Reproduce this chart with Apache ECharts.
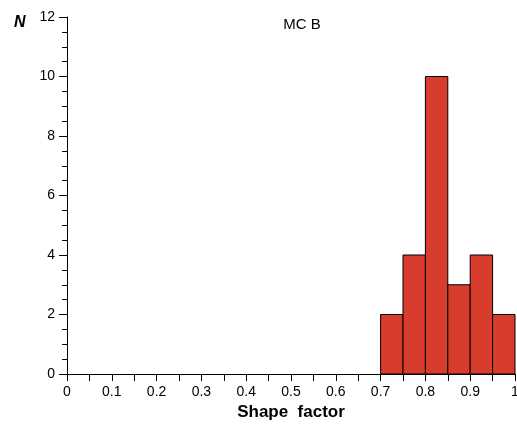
<!DOCTYPE html>
<html>
<head>
<meta charset="utf-8">
<script src="https://cdn.jsdelivr.net/npm/echarts@6/dist/echarts.min.js"></script>
<style>
  html, body { margin: 0; padding: 0; background: #fff; }
  #chart { width: 517px; height: 429px; }
</style>
</head>
<body>
<div id="chart"></div>
<script>
// Histogram of shape factor, bins of width 0.05
const binStarts = [0.70, 0.75, 0.80, 0.85, 0.90, 0.95];
const binEnds = [0.75, 0.80, 0.85, 0.90, 0.95, 1.00];
const counts = [2, 4, 10, 3, 4, 2];
const xTickLabels = ['0', '0.1', '0.2', '0.3', '0.4', '0.5', '0.6', '0.7', '0.8', '0.9', '1'];

const chart = echarts.init(document.getElementById('chart'), null, { renderer: 'canvas' });
const font = 'Liberation Sans, Arial, Helvetica, sans-serif';

const bins = binStarts.map((s, i) => [s, binEnds[i], counts[i]]);

chart.setOption({
  animation: false,
  backgroundColor: '#ffffff',
  title: [
    { text: 'MC B', left: 297, top: 12, textAlign: 'center',
      textStyle: { fontFamily: font, fontSize: 15, fontWeight: 'normal', color: '#000' } },
    { text: 'N', left: 9, top: 10,
      textStyle: { fontFamily: font, fontSize: 16, fontWeight: 'bold', fontStyle: 'italic', color: '#000' } }
  ],
  grid: { left: 67, right: 2, top: 17, bottom: 55, containLabel: false, outerBoundsMode: 'none' },
  xAxis: {
    type: 'value', min: 0, max: 1, interval: 0.1,
    name: 'Shape  factor', nameLocation: 'middle', nameGap: 30,
    nameTextStyle: { fontFamily: font, fontSize: 17, fontWeight: 'bold', color: '#000' },
    axisLine: { show: true, onZero: false, lineStyle: { color: '#000', width: 1 } },
    axisTick: { show: true, inside: false, length: 7, lineStyle: { color: '#000' } },
    minorTick: { show: true, splitNumber: 2, length: 7, lineStyle: { color: '#000' } },
    splitLine: { show: false },
    axisLabel: {
      fontFamily: font, fontSize: 14, color: '#000', margin: 11,
      formatter: (v) => xTickLabels[Math.round(v * 10)]
    }
  },
  yAxis: {
    type: 'value', min: 0, max: 12, interval: 2,
    axisLine: { show: true, lineStyle: { color: '#000', width: 1 } },
    axisTick: { show: true, inside: false, length: 8, lineStyle: { color: '#000' } },
    minorTick: { show: true, splitNumber: 4, length: 5, lineStyle: { color: '#000' } },
    splitLine: { show: false },
    axisLabel: { fontFamily: font, fontSize: 14, color: '#000', margin: 12 }
  },
  series: [{
    type: 'custom',
    data: bins,
    encode: { x: [0, 1], y: 2 },
    renderItem: function (params, api) {
      const p0 = api.coord([api.value(0), 0]);
      const p1 = api.coord([api.value(1), api.value(2)]);
      return {
        type: 'rect',
        shape: { x: p0[0], y: p1[1], width: p1[0] - p0[0], height: p0[1] - p1[1] },
        style: { fill: '#d73c2d', stroke: '#000', lineWidth: 1 }
      };
    }
  }]
});
</script>
</body>
</html>
